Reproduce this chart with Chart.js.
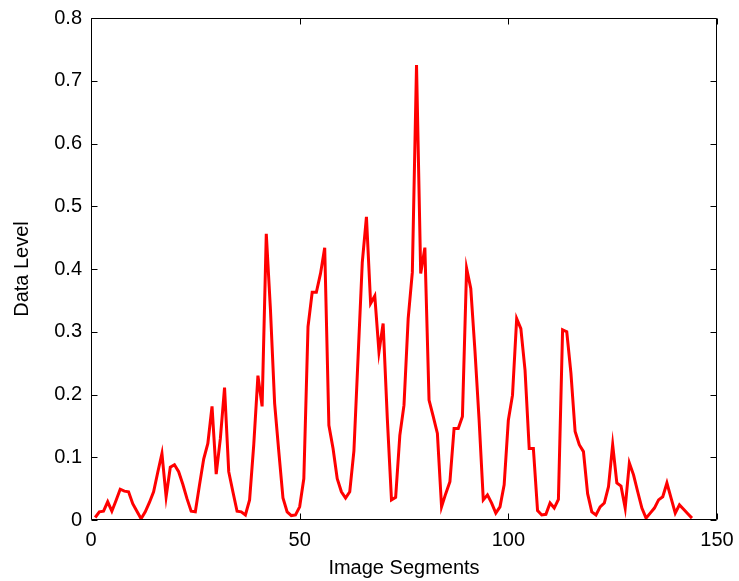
<!DOCTYPE html>
<html><head><meta charset="utf-8">
<script src="https://cdn.jsdelivr.net/npm/chart.js@4/dist/chart.umd.min.js"></script>
<style>html,body{margin:0;padding:0;background:#fff;overflow:hidden}#wrap{width:739px;height:581px;position:relative}</style>
</head><body><div id="wrap"><canvas id="c" width="739" height="581"></canvas></div>
<script>
// Data level per image segment (segments 1..144)
const segmentValues = [
  0.004,0.013,0.014,0.029,0.014,0.031,0.049,0.046,0.045,0.026,
  0.014,0.002,0.013,0.028,0.045,0.076,0.106,0.037,0.084,0.088,
  0.077,0.057,0.034,0.014,0.013,0.056,0.097,0.122,0.181,0.073,
  0.130,0.211,0.077,0.045,0.014,0.013,0.008,0.032,0.120,0.230,
  0.181,0.456,0.335,0.186,0.109,0.035,0.013,0.007,0.008,0.021,
  0.066,0.308,0.363,0.363,0.393,0.434,0.151,0.114,0.066,0.045,
  0.035,0.045,0.110,0.260,0.410,0.483,0.345,0.357,0.268,0.313,
  0.162,0.032,0.036,0.135,0.183,0.321,0.395,0.725,0.393,0.434,
  0.191,0.165,0.138,0.021,0.042,0.061,0.146,0.146,0.165,0.401,
  0.369,0.270,0.159,0.032,0.040,0.027,0.011,0.021,0.056,0.159,
  0.199,0.321,0.305,0.239,0.114,0.114,0.015,0.008,0.009,0.027,
  0.019,0.033,0.303,0.300,0.234,0.141,0.120,0.109,0.042,0.013,
  0.008,0.021,0.027,0.053,0.120,0.059,0.054,0.019,0.091,0.072,
  0.045,0.019,0.003,0.011,0.019,0.032,0.037,0.059,0.035,0.011,
  0.024,0.017,0.010,0.003
];
const xTickValues = [0, 50, 100, 150];
const xTickLabels = ['0', '50', '100', '150'];
const yTickValues = [0, 0.1, 0.2, 0.3, 0.4, 0.5, 0.6, 0.7, 0.8];
const yTickLabels = ['0', '0.1', '0.2', '0.3', '0.4', '0.5', '0.6', '0.7', '0.8'];
const xTitle = 'Image Segments';
const yTitle = 'Data Level';

const points = segmentValues.map((v, i) => ({x: i + 1, y: v}));
const FONT = {family: '"Liberation Sans", Arial, Helvetica, sans-serif', size: 20};

const frameTicks = {
  id: 'frameTicks',
  afterDraw(chart) {
    const {ctx, chartArea, scales} = chart;
    const L = Math.round(chartArea.left) + 0.5, R = Math.round(chartArea.right) - 0.5;
    const T = Math.round(chartArea.top) + 0.5, B = Math.round(chartArea.bottom) - 0.5;
    const len = 6;
    ctx.save();
    ctx.strokeStyle = '#000';
    ctx.lineWidth = 1;
    ctx.beginPath();
    ctx.rect(L, T, R - L, B - T);
    scales.x.ticks.forEach(t => {
      const p = Math.round(scales.x.getPixelForValue(t.value)) + 0.5;
      ctx.moveTo(p, B); ctx.lineTo(p, B - len);
      ctx.moveTo(p, T); ctx.lineTo(p, T + len);
    });
    scales.y.ticks.forEach(t => {
      const p = Math.round(scales.y.getPixelForValue(t.value)) + 0.5;
      ctx.moveTo(L, p); ctx.lineTo(L + len, p);
      ctx.moveTo(R, p); ctx.lineTo(R - len, p);
    });
    ctx.stroke();
    ctx.restore();
  }
};

new Chart(document.getElementById('c'), {
  type: 'line',
  data: {
    datasets: [{
      data: points,
      borderColor: '#ff0000',
      borderWidth: 3,
      pointRadius: 0,
      tension: 0,
      fill: false
    }]
  },
  options: {
    responsive: false,
    animation: false,
    events: [],
    layout: {padding: {top: 18, right: 22, left: 0, bottom: 0}},
    plugins: {legend: {display: false}, tooltip: {enabled: false}},
    scales: {
      x: {
        type: 'linear', min: 0, max: 150,
        afterBuildTicks: s => { s.ticks = xTickValues.map(v => ({value: v})); },
        afterFit: s => { s.height = 61; s.paddingLeft = 0; s.paddingRight = 0; },
        grid: {display: false, drawTicks: false},
        border: {display: false},
        ticks: {
          font: FONT, color: '#000', padding: 8, maxRotation: 0, autoSkip: false,
          callback: (v, i) => xTickLabels[i]
        },
        title: {display: true, text: xTitle, font: FONT, color: '#000', padding: {top: 0, bottom: 1}}
      },
      y: {
        type: 'linear', min: 0, max: 0.8,
        afterBuildTicks: s => { s.ticks = yTickValues.map(v => ({value: v})); },
        afterFit: s => { s.width = 91; s.paddingTop = 0; s.paddingBottom = 0; },
        grid: {display: false, drawTicks: false},
        border: {display: false},
        ticks: {
          font: FONT, color: '#000', padding: 9, autoSkip: false,
          callback: (v, i) => yTickLabels[i]
        },
        title: {display: true, text: yTitle, font: FONT, color: '#000', padding: {top: 10, bottom: 0}}
      }
    }
  },
  plugins: [frameTicks, {
    id: 'bg',
    beforeDraw(c) { const x = c.ctx; x.save(); x.fillStyle = '#fff'; x.fillRect(0, 0, c.width, c.height); x.restore(); }
  }]
});
</script></body></html>
